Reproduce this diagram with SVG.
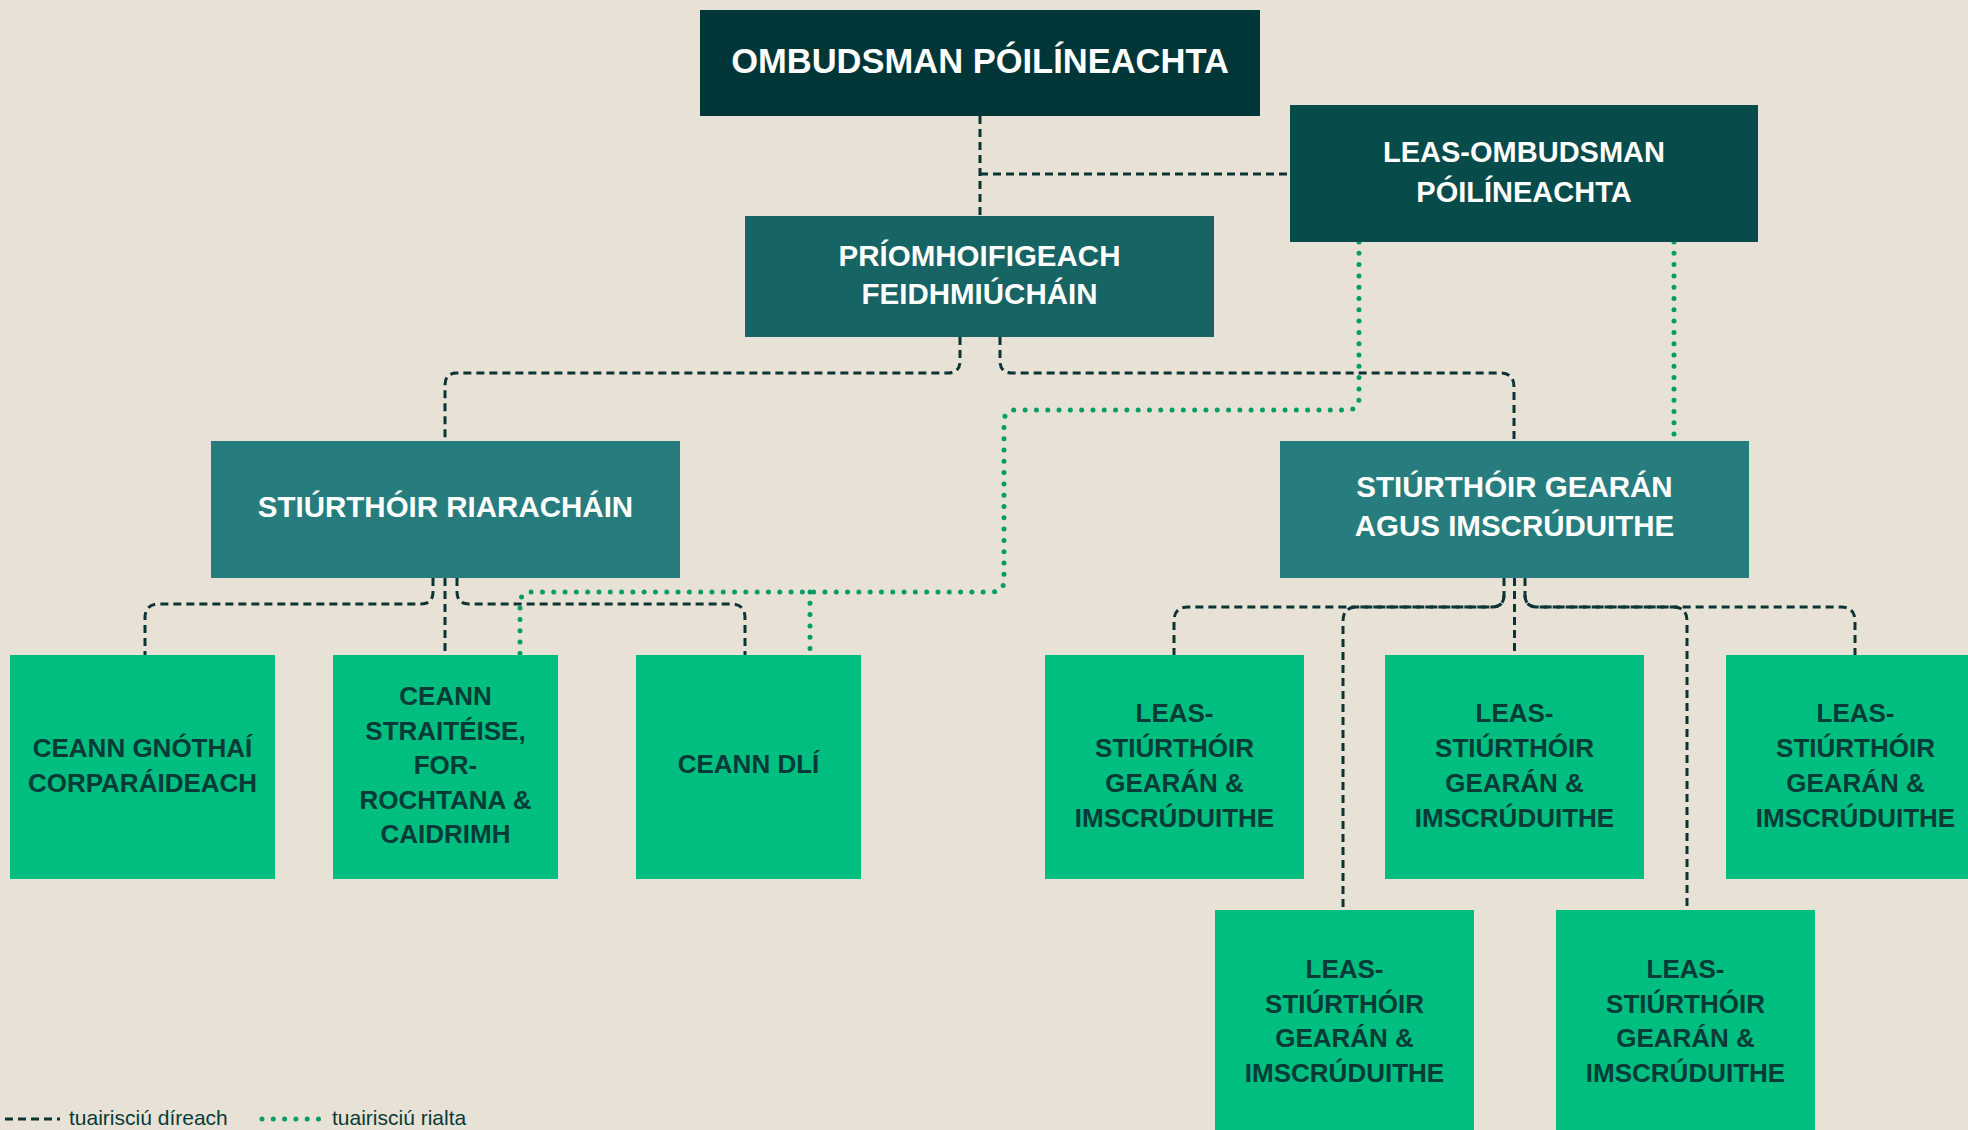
<svg xmlns="http://www.w3.org/2000/svg" width="1968" height="1130" viewBox="0 0 1968 1130">
<style>
.bg{fill:#e8e1d6}
.t{font-family:"Liberation Sans",Arial,sans-serif;font-weight:700;text-anchor:middle}
.w{fill:#ffffff}
.d{fill:#073b37}
.g{fill:#00be7f}
.dash{fill:none;stroke:#0b3535;stroke-width:3;stroke-dasharray:8 5}
.dot{fill:none;stroke:#009e66;stroke-width:5;stroke-linecap:round;stroke-dasharray:0 11.3}
.leg{font-family:"Liberation Sans",Arial,sans-serif;font-size:21px;fill:#073b37}
</style>
<rect class="bg" x="0" y="0" width="1968" height="1130"/>

<g id="connectors">
  <path class="dash" d="M980,116 V216"/>
  <path class="dash" d="M980,174 H1290"/>
  <path class="dash" d="M960,337 V361 Q960,373 948,373 H457 Q445,373 445,385 V441"/>
  <path class="dash" d="M1000,337 V361 Q1000,373 1012,373 H1500 Q1514,373 1514,387 V441"/>
  <path class="dash" d="M433,578 V592 Q433,604 421,604 H159 Q145,604 145,618 V655"/>
  <path class="dash" d="M445,578 V655"/>
  <path class="dash" d="M457,578 V592 Q457,604 469,604 H731 Q745,604 745,618 V655"/>
  <path class="dash" d="M1504,578 V595 Q1504,607 1492,607 H1188 Q1174,607 1174,621 V655"/>
  <path class="dash" d="M1504,595 Q1504,607 1492,607 H1357 Q1343,607 1343,621 V910"/>
  <path class="dash" d="M1514.5,578 V655"/>
  <path class="dash" d="M1525,578 V595 Q1525,607 1537,607 H1841 Q1855,607 1855,621 V655"/>
  <path class="dash" d="M1525,595 Q1525,607 1537,607 H1673 Q1687,607 1687,621 V910"/>
  <path class="dot" d="M1359,242 V398 Q1359,410 1347,410 H1016 Q1004,410 1004,422 V580 Q1004,592 992,592 H532 Q520,592 520,604 V655"/>
  <path class="dot" d="M810,592 V655"/>
  <path class="dot" d="M1674,242 V441"/>
</g>

<g id="ombudsman">
  <rect x="700" y="10" width="560" height="106" fill="#003638"/>
  <text class="t w" x="980" y="73" font-size="34.5">OMBUDSMAN PÓILÍNEACHTA</text>
</g>
<g id="leas-ombudsman">
  <rect x="1290" y="105" width="468" height="137" fill="#084b4b"/>
  <text class="t w" x="1524" y="162" font-size="29">LEAS-OMBUDSMAN</text>
  <text class="t w" x="1524" y="201.5" font-size="29">PÓILÍNEACHTA</text>
</g>
<g id="priomhoifigeach">
  <rect x="745" y="216" width="469" height="121" fill="#166464"/>
  <text class="t w" x="979.5" y="266" font-size="29.5">PRÍOMHOIFIGEACH</text>
  <text class="t w" x="979.5" y="304" font-size="29.5">FEIDHMIÚCHÁIN</text>
</g>
<g id="stiurthoir-riarachain">
  <rect x="211" y="441" width="469" height="137" fill="#277d7d"/>
  <text class="t w" x="445.5" y="517" font-size="29.5">STIÚRTHÓIR RIARACHÁIN</text>
</g>
<g id="stiurthoir-gearan">
  <rect x="1280" y="441" width="469" height="137" fill="#277d7d"/>
  <text class="t w" x="1514.5" y="497" font-size="29.5">STIÚRTHÓIR GEARÁN</text>
  <text class="t w" x="1514.5" y="536" font-size="29.5">AGUS IMSCRÚDUITHE</text>
</g>

<g id="ceann-gnothai">
  <rect class="g" x="10" y="655" width="265" height="224"/>
  <text class="t d" x="142.5" y="757" font-size="26">CEANN GNÓTHAÍ</text>
  <text class="t d" x="142.5" y="792" font-size="26">CORPARÁIDEACH</text>
</g>
<g id="ceann-straiteise">
  <rect class="g" x="333" y="655" width="225" height="224"/>
  <text class="t d" x="445.5" y="705" font-size="26">CEANN</text>
  <text class="t d" x="445.5" y="740" font-size="26">STRAITÉISE,</text>
  <text class="t d" x="445.5" y="774" font-size="26">FOR-</text>
  <text class="t d" x="445.5" y="809" font-size="26">ROCHTANA &amp;</text>
  <text class="t d" x="445.5" y="843" font-size="26">CAIDRIMH</text>
</g>
<g id="ceann-dli">
  <rect class="g" x="636" y="655" width="225" height="224"/>
  <text class="t d" x="748.5" y="773" font-size="26">CEANN DLÍ</text>
</g>

<g id="leas-stiurthoir-1">
  <rect class="g" x="1045" y="655" width="259" height="224"/>
  <text class="t d" x="1174.5" y="722" font-size="26">LEAS-</text>
  <text class="t d" x="1174.5" y="757" font-size="26">STIÚRTHÓIR</text>
  <text class="t d" x="1174.5" y="792" font-size="26">GEARÁN &amp;</text>
  <text class="t d" x="1174.5" y="827" font-size="26">IMSCRÚDUITHE</text>
</g>
<g id="leas-stiurthoir-2">
  <rect class="g" x="1385" y="655" width="259" height="224"/>
  <text class="t d" x="1514.5" y="722" font-size="26">LEAS-</text>
  <text class="t d" x="1514.5" y="757" font-size="26">STIÚRTHÓIR</text>
  <text class="t d" x="1514.5" y="792" font-size="26">GEARÁN &amp;</text>
  <text class="t d" x="1514.5" y="827" font-size="26">IMSCRÚDUITHE</text>
</g>
<g id="leas-stiurthoir-3">
  <rect class="g" x="1726" y="655" width="259" height="224"/>
  <text class="t d" x="1855.5" y="722" font-size="26">LEAS-</text>
  <text class="t d" x="1855.5" y="757" font-size="26">STIÚRTHÓIR</text>
  <text class="t d" x="1855.5" y="792" font-size="26">GEARÁN &amp;</text>
  <text class="t d" x="1855.5" y="827" font-size="26">IMSCRÚDUITHE</text>
</g>
<g id="leas-stiurthoir-4">
  <rect class="g" x="1215" y="910" width="259" height="224"/>
  <text class="t d" x="1344.5" y="978" font-size="26">LEAS-</text>
  <text class="t d" x="1344.5" y="1013" font-size="26">STIÚRTHÓIR</text>
  <text class="t d" x="1344.5" y="1047" font-size="26">GEARÁN &amp;</text>
  <text class="t d" x="1344.5" y="1082" font-size="26">IMSCRÚDUITHE</text>
</g>
<g id="leas-stiurthoir-5">
  <rect class="g" x="1556" y="910" width="259" height="224"/>
  <text class="t d" x="1685.5" y="978" font-size="26">LEAS-</text>
  <text class="t d" x="1685.5" y="1013" font-size="26">STIÚRTHÓIR</text>
  <text class="t d" x="1685.5" y="1047" font-size="26">GEARÁN &amp;</text>
  <text class="t d" x="1685.5" y="1082" font-size="26">IMSCRÚDUITHE</text>
</g>

<g id="legend">
  <path class="dash" d="M5,1119 H60"/>
  <text class="leg" x="69" y="1125">tuairisciú díreach</text>
  <path class="dot" d="M262,1119 H321"/>
  <text class="leg" x="332" y="1125">tuairisciú rialta</text>
</g>
</svg>
